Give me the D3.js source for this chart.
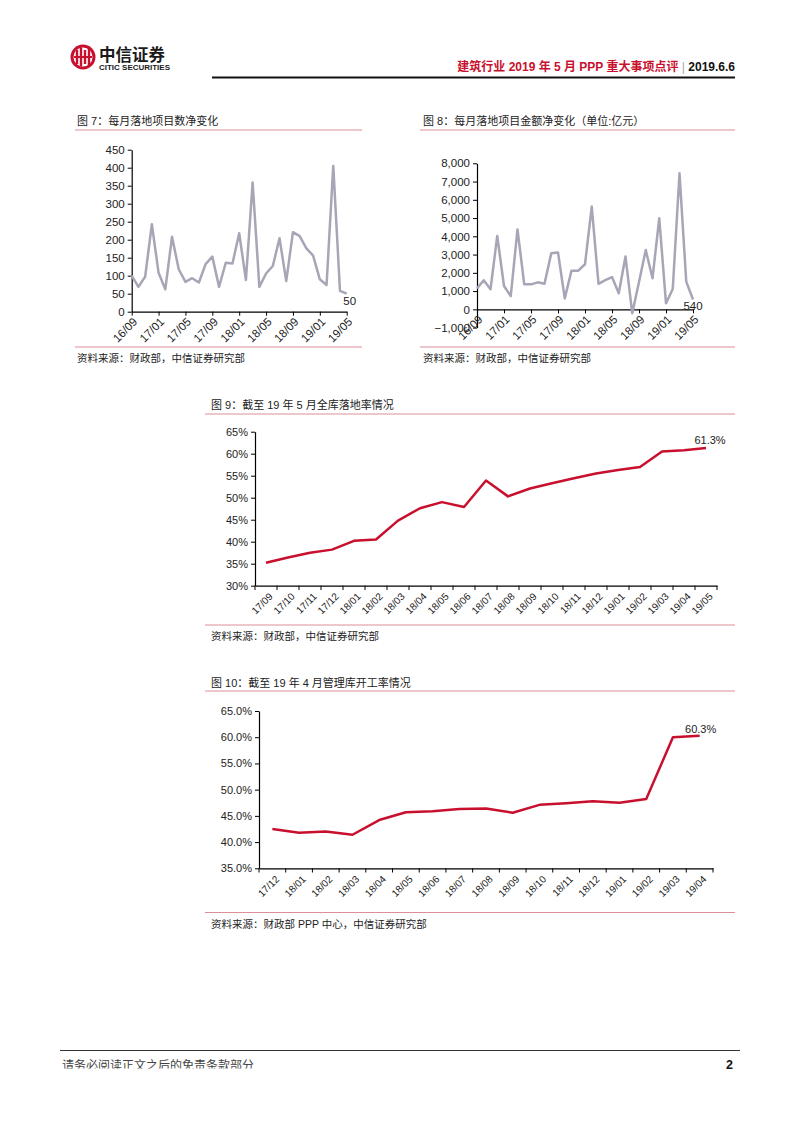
<!DOCTYPE html>
<html><head><meta charset="utf-8">
<script src="https://cdn.jsdelivr.net/npm/d3@7"></script>
<style>
html,body{margin:0;padding:0;background:#fff;}
svg text{font-family:'Liberation Sans','Noto Sans CJK SC',Arial,sans-serif;}
</style></head>
<body>
<script>
// ---------- data ----------
const months7 = ["16/09","16/10","16/11","16/12","17/01","17/02","17/03","17/04","17/05","17/06","17/07","17/08","17/09","17/10","17/11","17/12","18/01","18/02","18/03","18/04","18/05","18/06","18/07","18/08","18/09","18/10","18/11","18/12","19/01","19/02","19/03","19/04","19/05"];
const projectCount = [100,69,97,243,108,62,208,118,83,93,81,132,153,69,136,134,218,88,359,69,106,127,204,85,221,210,176,156,90,74,405,58,50];
const projectAmount = [1150,1590,1100,4020,1280,730,4380,1370,1370,1480,1400,3070,3120,600,2120,2120,2470,5630,1400,1600,1770,880,2890,-220,1500,3250,1700,4990,330,1110,7450,1520,540];
const xTickLabels78 = ["16/09","17/01","17/05","17/09","18/01","18/05","18/09","19/01","19/05"];
const yTicks7 = [0,50,100,150,200,250,300,350,400,450];
const yTicks8 = [-1000,0,1000,2000,3000,4000,5000,6000,7000,8000];

const months9 = ["17/09","17/10","17/11","17/12","18/01","18/02","18/03","18/04","18/05","18/06","18/07","18/08","18/09","18/10","18/11","18/12","19/01","19/02","19/03","19/04","19/05"];
const landingRate = [35.2,36.4,37.5,38.2,40.2,40.5,44.8,47.6,49.0,47.9,53.9,50.3,52.1,53.3,54.4,55.5,56.3,57.0,60.5,60.8,61.3];
const yTicks9 = [30,35,40,45,50,55,60,65];

const months10 = ["17/12","18/01","18/02","18/03","18/04","18/05","18/06","18/07","18/08","18/09","18/10","18/11","18/12","19/01","19/02","19/03","19/04"];
const startRate = [42.5,41.8,42.0,41.4,44.2,45.7,45.9,46.3,46.4,45.6,47.1,47.4,47.8,47.5,48.2,60.0,60.3];
const yTicks10 = [35,40,45,50,55,60,65];

// ---------- styling ----------
const RED = "#c8102e", GRAY_LINE = "#a6a6b6", SEP = "#dc8f98", TXT = "#222";

const svg = d3.select("body").append("svg").attr("width",802).attr("height",1133)
  .style("display","block");
svg.append("rect").attr("width",802).attr("height",1133).attr("fill","#fff");

// ---------- header ----------
const logo = svg.append("g");
logo.append("circle").attr("cx",83).attr("cy",57).attr("r",12.5).attr("fill",RED);
logo.append("circle").attr("cx",83).attr("cy",57).attr("r",9.5).attr("fill","#fff");
[-6,-2,2,6].forEach((d,i)=>{
  logo.append("rect").attr("x",83+d-1.2).attr("y",i%2?48:50).attr("width",2.4).attr("height",i%2?18:14).attr("fill",RED);
});
logo.append("rect").attr("x",74).attr("y",56).attr("width",18).attr("height",2).attr("fill",RED);
svg.append("text").attr("x",99).attr("y",61).attr("font-size",16.5).attr("font-weight","bold")
  .attr("font-family","'Noto Sans CJK SC',sans-serif").attr("fill","#1a1a1a").text("中信证券");
svg.append("text").attr("x",99).attr("y",70).attr("font-size",7).attr("font-weight","bold")
  .attr("textLength",71).attr("lengthAdjust","spacingAndGlyphs").attr("fill","#1a1a1a").text("CITIC SECURITIES");

const ht = svg.append("text").attr("x",735).attr("y",71).attr("text-anchor","end")
  .attr("font-size",12).attr("font-weight","bold");
ht.append("tspan").attr("fill",RED).text("建筑行业 2019 年 5 月 PPP 重大事项点评");
ht.append("tspan").attr("fill","#aaa").attr("font-weight","normal").text(" | ");
ht.append("tspan").attr("fill","#111").text("2019.6.6");
svg.append("line").attr("x1",212).attr("x2",735).attr("y1",77.5).attr("y2",77.5)
  .attr("stroke","#111").attr("stroke-width",2);

// ---------- helpers ----------
function title(x,y,t){
  svg.append("text").attr("x",x).attr("y",y).attr("font-size",11).attr("fill",TXT).text(t);
}
function sep(x1,x2,y){
  svg.append("line").attr("x1",x1).attr("x2",x2).attr("y1",y).attr("y2",y)
    .attr("stroke",SEP).attr("stroke-width",1);
}
function styleAxis(g, fs){
  g.selectAll("path.domain").attr("stroke","#000").attr("stroke-width",1.2);
  g.selectAll(".tick line").attr("stroke","#000").attr("stroke-width",1);
  g.selectAll("text").attr("font-size",fs).attr("fill",TXT)
    .attr("font-family","'Liberation Sans',Arial,sans-serif");
}
function rotateLabels(g, dx, dy){
  g.selectAll(".tick text").attr("text-anchor","end")
    .attr("transform",`translate(${dx},${dy}) rotate(-45)`).attr("dy","0.35em").attr("y",0).attr("x",0);
}

// ---------- chart 7 ----------
title(77,125,"图 7：每月落地项目数净变化");
sep(75,362,130);
{
  const x = d3.scalePoint().domain(months7).range([131.7,346.7]);
  const y = d3.scaleLinear().domain([0,450]).range([311.7,149.7]);
  const gy = svg.append("g").attr("transform","translate(131.7,0)")
    .call(d3.axisLeft(y).tickValues(yTicks7).tickSize(4).tickSizeOuter(0).tickFormat(d3.format("d")));
  styleAxis(gy,11.5);
  const gx = svg.append("g").attr("transform","translate(0,311.7)")
    .call(d3.axisBottom(x).tickValues(xTickLabels78).tickSize(4).tickSizeOuter(0));
  styleAxis(gx,11.5); rotateLabels(gx,3,8);
  svg.append("path").datum(projectCount)
    .attr("d", d3.line().x((d,i)=>x(months7[i])).y(d=>y(d)))
    .attr("fill","none").attr("stroke",GRAY_LINE).attr("stroke-width",2.5).attr("stroke-linejoin","round");
  const last = projectCount.length-1;
  svg.append("text").attr("x",x(months7[last])+3).attr("y",y(projectCount[last])+11)
    .attr("text-anchor","middle").attr("font-size",11.5).attr("fill",TXT).text(projectCount[last]);
}
sep(75,362,347);
svg.append("text").attr("x",77).attr("y",362).attr("font-size",10.5).attr("fill",TXT).text("资料来源：财政部，中信证券研究部");

// ---------- chart 8 ----------
title(423,125,"图 8：每月落地项目金额净变化（单位:亿元）");
sep(420,735,130);
{
  const x = d3.scalePoint().domain(months7).range([477,693]);
  const y = d3.scaleLinear().domain([-1000,8000]).range([327.6,163.3]);
  const gy = svg.append("g").attr("transform","translate(477,0)")
    .call(d3.axisLeft(y).tickValues(yTicks8).tickSize(4).tickSizeOuter(0).tickFormat(d3.format(",")));
  styleAxis(gy,11.5);
  const gx = svg.append("g").attr("transform",`translate(0,${y(0)})`)
    .call(d3.axisBottom(x).tickValues(xTickLabels78).tickSize(4).tickSizeOuter(0));
  styleAxis(gx,11.5); rotateLabels(gx,3,8);
  svg.append("path").datum(projectAmount)
    .attr("d", d3.line().x((d,i)=>x(months7[i])).y(d=>y(d)))
    .attr("fill","none").attr("stroke",GRAY_LINE).attr("stroke-width",2.5).attr("stroke-linejoin","round");
  const last = projectAmount.length-1;
  svg.append("text").attr("x",x(months7[last])).attr("y",y(projectAmount[last])+11)
    .attr("text-anchor","middle").attr("font-size",11.5).attr("fill",TXT).text(projectAmount[last]);
}
sep(420,735,347);
svg.append("text").attr("x",423).attr("y",362).attr("font-size",10.5).attr("fill",TXT).text("资料来源：财政部，中信证券研究部");

// ---------- chart 9 ----------
title(211,409,"图 9：截至 19 年 5 月全库落地率情况");
sep(205,735,414);
{
  const x = d3.scaleBand().domain(months9).range([255,717]);
  const y = d3.scaleLinear().domain([30,65]).range([585.7,431.7]);
  const gy = svg.append("g").attr("transform","translate(255,0)")
    .call(d3.axisLeft(y).tickValues(yTicks9).tickSize(4).tickSizeOuter(0).tickFormat(d=>d+"%"));
  styleAxis(gy,11);
  const gx = svg.append("g").attr("transform","translate(0,585.7)")
    .call(d3.axisBottom(x).tickSize(0).tickSizeOuter(0));
  styleAxis(gx,10); rotateLabels(gx,5,9);
  gx.selectAll(".tick").filter(()=>false);
  const bounds = months9.map(m=>x(m)).concat([x.range()[1]]);
  svg.append("g").selectAll("line").data(bounds).join("line")
    .attr("x1",d=>d).attr("x2",d=>d).attr("y1",585.7).attr("y2",590)
    .attr("stroke","#000").attr("stroke-width",1);
  svg.append("path").datum(landingRate)
    .attr("d", d3.line().x((d,i)=>x(months9[i])+x.bandwidth()/2).y(d=>y(d)))
    .attr("fill","none").attr("stroke",RED).attr("stroke-width",2.5).attr("stroke-linejoin","round");
  const last = landingRate.length-1;
  svg.append("text").attr("x",x(months9[last])+x.bandwidth()/2+4).attr("y",y(landingRate[last])-4)
    .attr("text-anchor","middle").attr("font-size",11).attr("fill",TXT).text(landingRate[last].toFixed(1)+"%");
}
sep(205,735,625);
svg.append("text").attr("x",211).attr("y",640).attr("font-size",10.5).attr("fill",TXT).text("资料来源：财政部，中信证券研究部");

// ---------- chart 10 ----------
title(211,687,"图 10：截至 19 年 4 月管理库开工率情况");
sep(205,735,691);
{
  const x = d3.scaleBand().domain(months10).range([259,713]);
  const y = d3.scaleLinear().domain([35,65]).range([868.3,711]);
  const gy = svg.append("g").attr("transform","translate(259,0)")
    .call(d3.axisLeft(y).tickValues(yTicks10).tickSize(4).tickSizeOuter(0).tickFormat(d=>d.toFixed(1)+"%"));
  styleAxis(gy,11);
  const gx = svg.append("g").attr("transform","translate(0,868.3)")
    .call(d3.axisBottom(x).tickSize(0).tickSizeOuter(0));
  styleAxis(gx,10); rotateLabels(gx,5,9);
  const bounds = months10.map(m=>x(m)).concat([x.range()[1]]);
  svg.append("g").selectAll("line").data(bounds).join("line")
    .attr("x1",d=>d).attr("x2",d=>d).attr("y1",868.3).attr("y2",872.5)
    .attr("stroke","#000").attr("stroke-width",1);
  svg.append("path").datum(startRate)
    .attr("d", d3.line().x((d,i)=>x(months10[i])+x.bandwidth()/2).y(d=>y(d)))
    .attr("fill","none").attr("stroke",RED).attr("stroke-width",2.5).attr("stroke-linejoin","round");
  const last = startRate.length-1;
  svg.append("text").attr("x",x(months10[last])+x.bandwidth()/2+1).attr("y",y(startRate[last])-3)
    .attr("text-anchor","middle").attr("font-size",11).attr("fill",TXT).text(startRate[last].toFixed(1)+"%");
}
sep(205,735,912.5);
svg.append("text").attr("x",211).attr("y",928).attr("font-size",10.5).attr("fill",TXT).text("资料来源：财政部 PPP 中心，中信证券研究部");

// ---------- footer ----------
svg.append("line").attr("x1",60).attr("x2",740).attr("y1",1050.5).attr("y2",1050.5)
  .attr("stroke","#333").attr("stroke-width",1.2);
svg.append("clipPath").attr("id","fclip").append("rect").attr("x",0).attr("y",1052).attr("width",802).attr("height",16.5);
svg.append("text").attr("x",62).attr("y",1070).attr("font-size",12).attr("fill","#444")
  .attr("clip-path","url(#fclip)").text("请务必阅读正文之后的免责条款部分");
svg.append("text").attr("x",733).attr("y",1069).attr("text-anchor","end").attr("font-size",12.5)
  .attr("font-weight","bold").attr("fill","#111").text("2");
</script>
</body></html>
